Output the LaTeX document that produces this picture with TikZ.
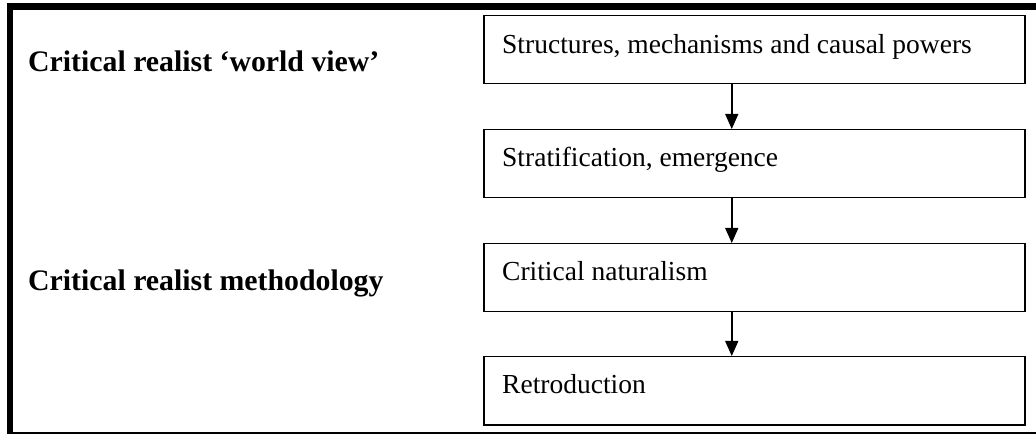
\documentclass[tikz,border=0pt]{standalone}
\usepackage{fontspec}
\setmainfont{Liberation Serif}
\usetikzlibrary{arrows.meta}
\begin{document}
\begin{tikzpicture}[x=1pt,y=-1pt,
  box/.style={draw, line width=1.5pt, minimum width=541pt, minimum height=68pt, anchor=north west, inner sep=0pt},
  boxtext/.style={anchor=base west, inner sep=0pt, font=\fontsize{27.5}{32}\selectfont},
  side/.style={anchor=base west, inner sep=0pt, font=\fontsize{29.8}{34}\selectfont\bfseries},
  link/.style={line width=1.5pt, -{Triangle[width=13pt,length=15pt]}},
  frame/.style={line width=1.5pt}]
\useasboundingbox (0,0) rectangle (1036,435);
% outer frame
\fill (7,3) rectangle (13,434);
\fill (7,3) rectangle (1036,10);
\draw[frame] (7,433) -- (1036,433);
% side labels
\node[side] (l1) at (28,72) {Critical realist ‘world view’};
\node[side] (l2) at (28,291) {Critical realist methodology};
% boxes
\node[box] (b1) at (483,15) {};
\node[box] (b2) at (483,129) {};
\node[box] (b3) at (483,243) {};
\node[box] (b4) at (483,356) {};
\node[boxtext] (t1) at (502,54) {Structures, mechanisms and causal powers};
\node[boxtext] (t2) at (502,167) {Stratification, emergence};
\node[boxtext] (t3) at (502,281) {Critical naturalism};
\node[boxtext] (t4) at (502,394) {Retroduction};
% arrows
\draw[link] ([xshift=-22.5pt]b1.south) -- ([xshift=-22.5pt]b2.north);
\draw[link] ([xshift=-22.5pt]b2.south) -- ([xshift=-22.5pt]b3.north);
\draw[link] ([xshift=-22.5pt]b3.south) -- ([xshift=-22.5pt]b4.north);
\end{tikzpicture}
\end{document}
